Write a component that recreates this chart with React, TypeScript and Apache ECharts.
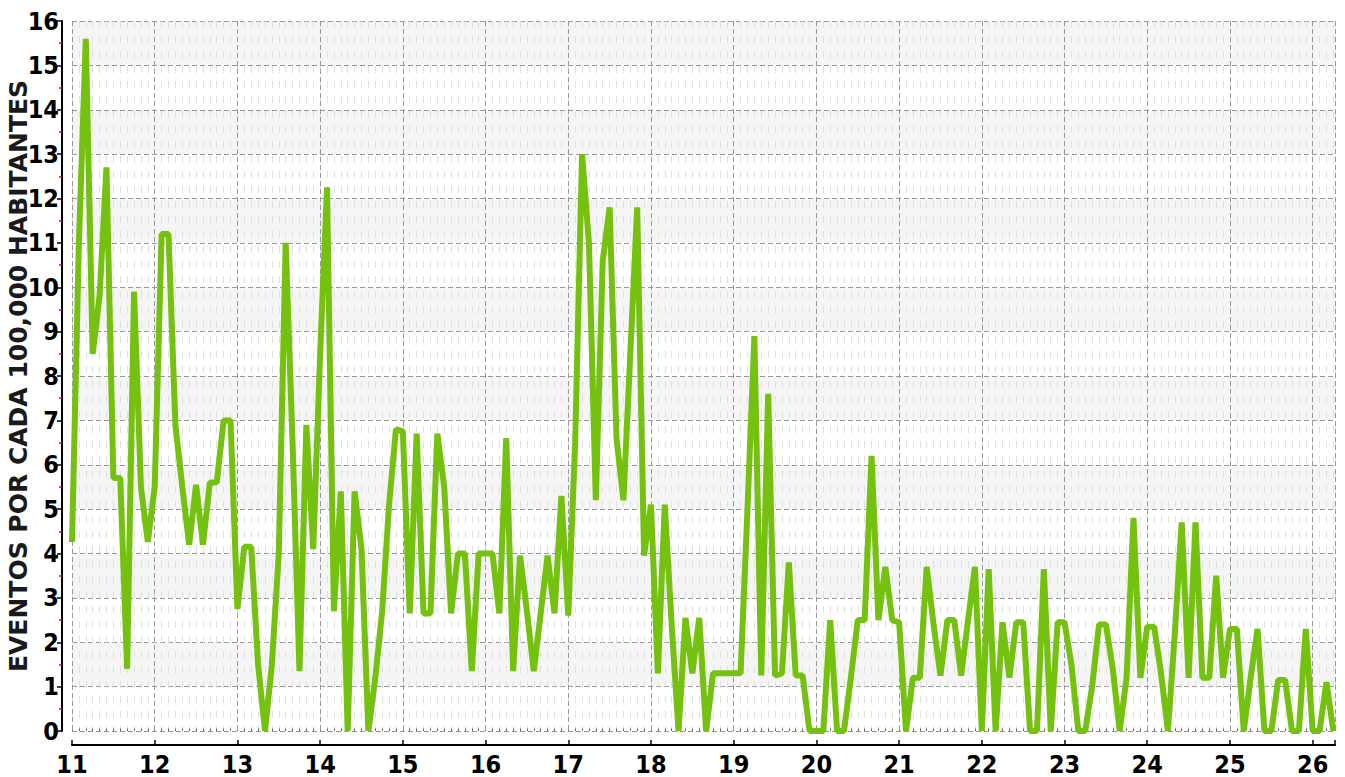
import React, { useEffect, useRef } from "react";
import * as echarts from "echarts";

// Tick labels / axis range (years shown as two digits)
const yearTicks = [11, 12, 13, 14, 15, 16, 17, 18, 19, 20, 21, 22, 23, 24, 25, 26];
const xMin = 11;
const xMax = 26.27;
const yMin = 0;
const yMax = 16;
const axisTitle = "EVENTOS POR CADA 100,000 HABITANTES";

// Monthly rates per 100,000 inhabitants (Jan..Dec) for each year
const y2011 = [4.26, 11.0, 15.6, 8.5, 9.8, 12.7, 5.7, 5.7, 1.4, 9.9, 5.5, 4.26];
const y2012 = [5.5, 11.2, 11.2, 6.9, 5.5, 4.2, 5.55, 4.2, 5.6, 5.6, 7.0, 7.0];
const y2013 = [2.75, 4.15, 4.15, 1.5, 0, 1.5, 4.0, 11.0, 6.5, 1.35, 6.9, 4.1];
const y2014 = [8.5, 12.25, 2.7, 5.4, 0, 5.4, 4.1, 0, 1.2, 2.7, 5.1, 6.8];
const y2015 = [6.75, 2.65, 6.7, 2.65, 2.65, 6.7, 5.5, 2.65, 4.0, 4.0, 1.35, 4.0];
const y2016 = [4.0, 4.0, 2.65, 6.6, 1.35, 3.95, 2.7, 1.35, 2.65, 3.95, 2.65, 5.3];
const y2017 = [2.6, 6.5, 13.0, 11.0, 5.2, 10.6, 11.8, 6.6, 5.2, 8.5, 11.8, 3.95];
const y2018 = [5.1, 1.3, 5.1, 2.4, 0, 2.55, 1.3, 2.55, 0, 1.3, 1.3, 1.3];
const y2019 = [1.3, 1.3, 5.0, 8.9, 1.25, 7.6, 1.25, 1.3, 3.8, 1.25, 1.25, 0];
const y2020 = [0, 0, 2.5, 0, 0, 1.2, 2.5, 2.5, 6.2, 2.5, 3.7, 2.5];
const y2021 = [2.45, 0, 1.2, 1.2, 3.7, 2.4, 1.25, 2.5, 2.5, 1.25, 2.5, 3.7];
const y2022 = [0, 3.65, 0, 2.45, 1.2, 2.45, 2.45, 0, 0, 3.65, 0, 2.45];
const y2023 = [2.45, 1.5, 0, 0, 1.0, 2.4, 2.4, 1.4, 0, 1.2, 4.8, 1.2];
const y2024 = [2.35, 2.35, 1.3, 0, 2.2, 4.7, 1.2, 4.7, 1.2, 1.2, 3.5, 1.2];
const y2025 = [2.3, 2.3, 0, 1.2, 2.3, 0, 0, 1.15, 1.15, 0, 0, 2.3];
const y2026 = [0, 0, 1.1, 0];

const yearlySeries = [
  y2011, y2012, y2013, y2014, y2015, y2016, y2017, y2018,
  y2019, y2020, y2021, y2022, y2023, y2024, y2025, y2026,
];

const MONTHS = 12;

function buildPoints(): [number, number][] {
  const pts: [number, number][] = [];
  yearlySeries.forEach((arr, yi) => {
    arr.forEach((v, m) => {
      pts.push([yearTicks[yi] + m / MONTHS, v]);
    });
  });
  return pts;
}

const labelFont = "'Liberation Sans Narrow', 'DejaVu Sans Condensed', 'Arial Narrow', sans-serif";

export default function App() {
  const ref = useRef<HTMLDivElement>(null);

  useEffect(() => {
    if (!ref.current) return;
    const chart = echarts.init(ref.current, undefined, { renderer: "svg" });
    const option = {
      animation: false,
      backgroundColor: "#ffffff",
      grid: {
        left: 72,
        right: 10,
        top: 21,
        bottom: 46,
        containLabel: false,
        outerBoundsMode: "none",
      },
      xAxis: [
        {
          type: "value",
          min: xMin,
          max: xMax,
          interval: 1,
          position: "bottom",
          offset: 14,
          z: 2,
          axisLine: { show: true, onZero: false, lineStyle: { color: "#000", width: 2 } },
          axisTick: { show: true, inside: true, length: 5, lineStyle: { color: "#000", width: 1.5 } },
          axisLabel: {
            show: true,
            margin: 9,
            color: "#000",
            fontFamily: labelFont,
            fontWeight: "bold",
            fontSize: 25,
            lineHeight: 20,
            formatter: (v: number) => (yearTicks.includes(Math.round(v * 1000) / 1000) ? String(v) : ""),
          },
          splitLine: { show: true, lineStyle: { color: "#9a9a9a", width: 1, type: [5, 3] } },
        },
        {
          type: "value",
          min: xMin,
          max: xMax,
          interval: 1 / MONTHS,
          position: "bottom",
          offset: 14,
          z: 1,
          axisLine: { show: false },
          axisTick: { show: true, inside: true, length: 2.5, lineStyle: { color: "#666", width: 1 } },
          axisLabel: { show: false },
          splitLine: { show: true, lineStyle: { color: "#e0e0e0", width: 1, type: [7, 8] } },
        },
      ],
      yAxis: {
        type: "value",
        min: yMin,
        max: yMax,
        interval: 1,
        offset: 10,
        z: 0,
        name: axisTitle,
        nameLocation: "middle",
        nameGap: 31,
        nameMoveOverlap: false,
        nameTextStyle: {
          fontFamily: "'DejaVu Sans', sans-serif",
          fontWeight: "bold",
          fontSize: 25,
          color: "#1a1a1a",
        },
        axisLine: { show: true, lineStyle: { color: "#000", width: 2 } },
        axisTick: { show: true, inside: false, length: 5, lineStyle: { color: "#000", width: 1.5 } },
        minorTick: { show: true, splitNumber: 2, length: 3, lineStyle: { color: "#ff0000", width: 1.5 } },
        axisLabel: {
          margin: 3,
          color: "#000",
          fontFamily: labelFont,
          fontWeight: "bold",
          fontSize: 25,
        },
        splitLine: { show: true, lineStyle: { color: "#9a9a9a", width: 1, type: [5, 3] } },
        splitArea: { show: true, areaStyle: { color: ["rgba(255,255,255,0)", "#f5f5f5"] } },
      },
      series: [
        {
          type: "line",
          xAxisIndex: 0,
          yAxisIndex: 0,
          data: buildPoints(),
          showSymbol: false,
          symbol: "none",
          z: 3,
          lineStyle: { color: "#74c20f", width: 6, join: "bevel" },
        },
      ],
    };
    chart.setOption(option as any);
    return () => chart.dispose();
  }, []);

  return (
    <div
      ref={ref}
      style={{ position: "absolute", left: 0, top: 0, width: 1345, height: 777 }}
    />
  );
}
